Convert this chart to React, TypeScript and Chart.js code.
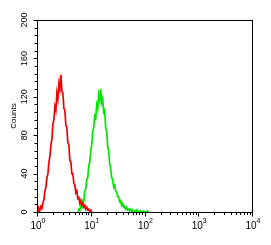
import React, { useEffect, useRef } from "react";
import { Chart, registerables } from "chart.js";

Chart.register(...registerables);

// Red histogram (isotype control)
const redX = [1.0, 1.044, 1.089, 1.137, 1.186, 1.238, 1.292, 1.348, 1.406, 1.468, 1.532, 1.598, 1.668, 1.741, 1.817, 1.896, 1.978, 2.065, 2.154, 2.248, 2.346, 2.448, 2.555, 2.667, 2.783, 2.904, 3.031, 3.163, 3.301, 3.445, 3.594, 3.751, 3.914, 4.085, 4.263, 4.449, 4.642, 4.845, 5.056, 5.276, 5.506, 5.746, 5.995, 6.257, 6.529, 6.814, 7.11, 7.42, 7.743, 8.081, 8.433, 8.8, 9.183, 9.584, 10.0, 10.44];
const redY = [3, 0, 4, 2, 6, 4, 10, 13, 22, 26, 36, 40, 52, 58, 70, 76, 92, 96, 110, 106, 124, 118, 134, 128, 143, 126, 124, 108, 106, 90, 88, 72, 70, 54, 52, 40, 40, 30, 28, 20, 22, 14, 15, 9, 12, 7, 9, 5, 7, 3, 5, 2, 3, 1, 2, 0];

// Green histogram (antibody)
const greenX = [5.746, 5.995, 6.257, 6.529, 6.814, 7.11, 7.42, 7.743, 8.081, 8.433, 8.8, 9.183, 9.584, 10.0, 10.44, 10.89, 11.37, 11.86, 12.38, 12.92, 13.48, 14.07, 14.68, 15.32, 15.99, 16.68, 17.41, 18.17, 18.96, 19.79, 20.65, 21.54, 22.48, 23.46, 24.48, 25.55, 26.66, 27.83, 29.04, 30.3, 31.62, 33.0, 34.44, 35.94, 37.51, 39.14, 40.85, 42.63, 44.48, 46.42, 48.45, 50.55, 52.76, 55.06, 57.45, 59.95, 62.57, 65.3, 68.13, 71.1, 74.2, 77.43, 80.8, 84.33, 88.0, 95.84, 100.0, 113.7, 118.6];
const greenY = [0, 3, 2, 6, 5, 12, 11, 22, 24, 34, 36, 48, 52, 64, 70, 84, 88, 100, 98, 112, 108, 122, 116, 128, 114, 118, 104, 106, 88, 84, 68, 64, 50, 46, 36, 34, 26, 28, 22, 21, 16, 16, 11, 12, 7, 9, 5, 6, 3, 5, 2, 3, 1, 3, 1, 2, 0, 1, 0, 2, 0, 1, 0, 1, 0, 1, 0, 1, 0];

const yTickLabels = [0, 40, 80, 120, 160, 200];
const yMinorStep = 8;
const xDecadeExponents = [0, 1, 2, 3, 4];
const yTitle = "Counts";

const FONT = '"Liberation Sans", Arial, sans-serif';

const axesPlugin = {
  id: "facsAxes",
  afterDraw(chart: any) {
    const ctx = chart.ctx as CanvasRenderingContext2D;
    const xs = chart.scales.x;
    const ys = chart.scales.y;
    const a = chart.chartArea;
    ctx.save();
    ctx.strokeStyle = "#000";
    ctx.lineWidth = 1;
    // frame
    ctx.strokeRect(Math.round(a.left) + 0.5, Math.round(a.top) + 0.5, Math.round(a.right - a.left), Math.round(a.bottom - a.top));
    // y ticks
    const left = Math.round(a.left) + 0.5;
    ctx.beginPath();
    for (let v = 0; v <= 200; v += yMinorStep) {
      const y = Math.round(ys.getPixelForValue(v)) + 0.5;
      const major = yTickLabels.includes(v);
      ctx.moveTo(left, y);
      ctx.lineTo(left - (major ? 4 : 3), y);
    }
    // x ticks
    const bottom = Math.round(a.bottom) + 0.5;
    for (let i = 0; i < xDecadeExponents.length; i++) {
      const base = Math.pow(10, xDecadeExponents[i]);
      const xm = Math.round(xs.getPixelForValue(base)) + 0.5;
      ctx.moveTo(xm, bottom);
      ctx.lineTo(xm, bottom + 4);
      if (i < xDecadeExponents.length - 1) {
        for (let k = 2; k <= 9; k++) {
          const x = Math.round(xs.getPixelForValue(k * base)) + 0.5;
          ctx.moveTo(x, bottom);
          ctx.lineTo(x, bottom + 2.5);
        }
      }
    }
    ctx.stroke();

    // y tick labels (rotated)
    ctx.fillStyle = "#000";
    ctx.font = `9px ${FONT}`;
    ctx.textAlign = "center";
    ctx.textBaseline = "middle";
    for (const v of yTickLabels) {
      const y = ys.getPixelForValue(v);
      ctx.save();
      ctx.translate(a.left - 12, y);
      ctx.rotate(-Math.PI / 2);
      ctx.fillText(String(v), 0, 0);
      ctx.restore();
    }
    // y title
    ctx.save();
    ctx.font = `8px ${FONT}`;
    ctx.translate(14, (a.top + a.bottom) / 2);
    ctx.rotate(-Math.PI / 2);
    ctx.fillText(yTitle, 0, 0);
    ctx.restore();

    // x tick labels 10^n
    ctx.textBaseline = "alphabetic";
    ctx.textAlign = "left";
    for (const e of xDecadeExponents) {
      const x = xs.getPixelForValue(Math.pow(10, e));
      ctx.font = `10px ${FONT}`;
      const w1 = ctx.measureText("10").width;
      ctx.font = `7px ${FONT}`;
      const w2 = ctx.measureText(String(e)).width;
      const start = x - (w1 + w2) / 2 + 1;
      ctx.font = `10px ${FONT}`;
      ctx.fillText("10", start, a.bottom + 17);
      ctx.font = `7px ${FONT}`;
      ctx.fillText(String(e), start + w1, a.bottom + 11);
    }
    ctx.restore();
  },
};

export default function App() {
  const ref = useRef<HTMLCanvasElement | null>(null);
  useEffect(() => {
    if (!ref.current) return;
    const chart = new Chart(ref.current, {
      type: "line",
      data: {
        datasets: [
          {
            label: "Control",
            data: redX.map((x, i) => ({ x, y: redY[i] })),
            borderColor: "rgb(240,0,0)",
            borderWidth: 1.7,
            pointRadius: 0,
            tension: 0,
            fill: false,
          },
          {
            label: "Antibody",
            data: greenX.map((x, i) => ({ x, y: greenY[i] })),
            borderColor: "rgb(0,230,0)",
            borderWidth: 1.7,
            pointRadius: 0,
            tension: 0,
            fill: false,
          },
        ],
      },
      options: {
        animation: false,
        responsive: false,
        maintainAspectRatio: false,
        devicePixelRatio: 1,
        layout: { padding: { left: 37, right: 19, top: 20, bottom: 33 } },
        plugins: { legend: { display: false }, tooltip: { enabled: false } },
        events: [],
        scales: {
          x: { type: "logarithmic", min: 1, max: 10000, display: false },
          y: { type: "linear", min: 0, max: 200, display: false },
        },
      },
      plugins: [axesPlugin],
    });
    return () => chart.destroy();
  }, []);
  return (
    <div style={{ position: "fixed", left: 0, top: 0, width: 271, height: 245, background: "#fff" }}>
      <canvas ref={ref} width={271} height={245} style={{ width: 271, height: 245, display: "block" }} />
    </div>
  );
}
